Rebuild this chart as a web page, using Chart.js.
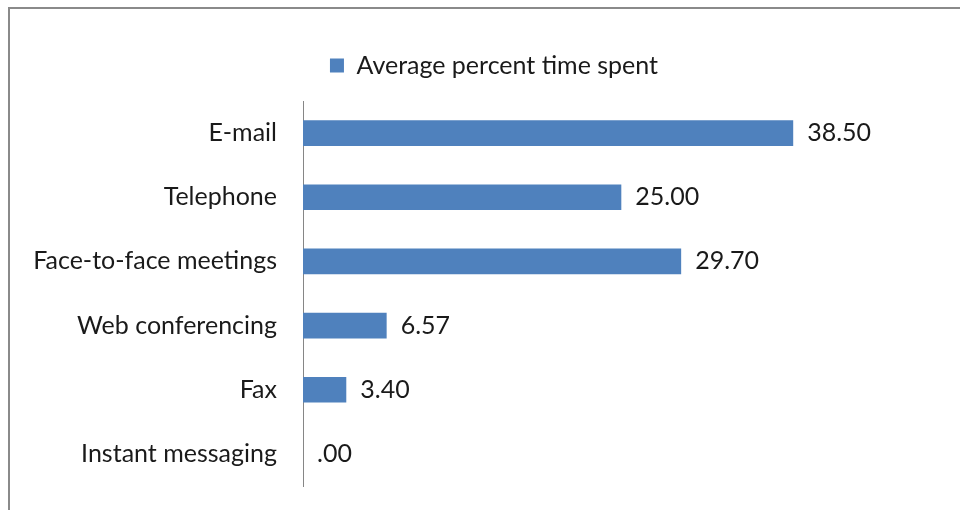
<!DOCTYPE html>
<html><head><meta charset="utf-8">
<script src="https://cdn.jsdelivr.net/npm/chart.js@4/dist/chart.umd.min.js"></script>
<style>html,body{margin:0;padding:0;background:#fff}#wrap{position:relative;width:960px;height:510px}</style>
</head><body><div id="wrap"><canvas id="c" width="960" height="510"></canvas></div>
<script>
const categories = ['E-mail','Telephone','Face-to-face meetings','Web conferencing','Fax','Instant messaging'];
const seriesName = 'Average percent time spent';
const values = [38.50, 25.00, 29.70, 6.57, 3.40, 0.00];

const FONT = 'Lato';
const FS = 25;
function fmt(v){ let s = v.toFixed(2); if (s.startsWith('0.')) s = s.slice(1); return s; }

const borderPlugin = {
  id: 'frame',
  beforeDraw(chart){
    const ctx = chart.ctx;
    ctx.save();
    ctx.fillStyle = '#fff';
    ctx.fillRect(0,0,chart.width,chart.height);
    ctx.strokeStyle = '#8a8a8a';
    ctx.lineWidth = 2;
    ctx.strokeRect(9, 8, 1000, 1000);
    ctx.restore();
  }
};
const labelPlugin = {
  id: 'vals',
  afterDatasetsDraw(chart){
    const ctx = chart.ctx;
    const meta = chart.getDatasetMeta(0);
    ctx.save();
    ctx.font = FS + 'px "' + FONT + '"';
    ctx.fillStyle = '#1a1a1a';
    ctx.textBaseline = 'middle';
    ctx.textAlign = 'left';
    meta.data.forEach((bar, i) => {
      ctx.fillText(fmt(values[i]), bar.x + 14, bar.y);
    });
    ctx.restore();
  }
};

new Chart(document.getElementById('c'), {
  type: 'bar',
  data: { labels: categories, datasets: [{ label: seriesName, data: values, backgroundColor: '#4F81BD', borderWidth: 0, categoryPercentage: 1, barPercentage: 0.4 }] },
  options: {
    indexAxis: 'y', responsive: false, animation: false,
    layout: { padding: { left: 28, right: 0, top: 43, bottom: 24 } },
    plugins: {
      legend: { position: 'top', labels: { font: { family: FONT, size: FS }, color: '#1a1a1a', boxWidth: 14, boxHeight: 14, padding: 10 } },
      tooltip: { enabled: false }
    },
    scales: {
      x: { position: 'top', min: 0, max: 51.6, ticks: { display: false }, grid: { display: false, drawTicks: false }, border: { display: false },
           afterFit(s){ s.height = 13; s.paddingLeft = 0; s.paddingRight = 0; } },
      y: { ticks: { font: { family: FONT, size: FS }, color: '#1a1a1a', padding: 26 }, grid: { display: false, drawTicks: false },
           border: { display: true, color: '#868686', width: 1 },
           afterFit(s){ s.width = 275; s.paddingTop = 0; s.paddingBottom = 0; } }
    }
  },
  plugins: [borderPlugin, labelPlugin]
});
</script></body></html>
